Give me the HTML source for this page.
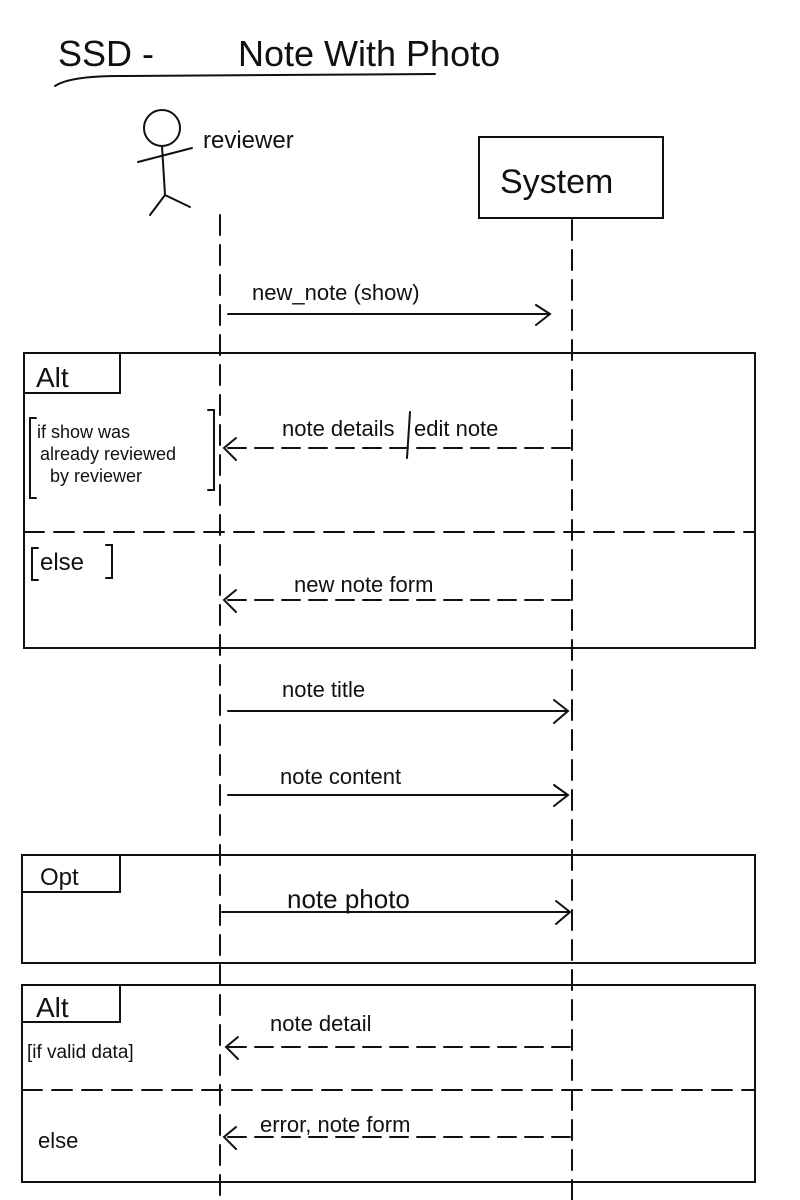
<!DOCTYPE html>
<html><head><meta charset="utf-8"><style>
html,body{margin:0;padding:0;background:#fff;width:800px;height:1200px;overflow:hidden}
svg text{font-family:"Liberation Sans",sans-serif;fill:#111}
</style></head><body>
<svg width="800" height="1200" viewBox="0 0 800 1200" xmlns="http://www.w3.org/2000/svg">
<g stroke="#111" stroke-width="2" fill="none" stroke-linecap="round">
<!-- title underline -->
<path d="M55 86 Q70 76 120 76 L435 74"/>
<!-- stick figure -->
<circle cx="162" cy="128" r="18"/>
<path d="M162 146 L165 195 M138 162 L192 148 M165 195 L150 215 M165 195 L190 207"/>
<!-- system box -->
<rect x="479" y="137" width="184" height="81"/>
<!-- lifelines -->
<path d="M220 215 V1200" stroke-dasharray="20 10"/>
<path d="M572 220 V1200" stroke-dasharray="20 10"/>
<!-- alt 1 -->
<rect x="24" y="353" width="731" height="295"/>
<path d="M24 393 H120 V353"/>
<path d="M24 532 H755" stroke-dasharray="20 10"/>
<path d="M36 418 H30 V498 H36 M208 410 H214 V490 H208"/>
<path d="M38 548 H32 V580 H38 M106 545 H112 V578 H106"/>
<!-- opt -->
<rect x="22" y="855" width="733" height="108"/>
<path d="M22 892 H120 V855"/>
<!-- alt 2 -->
<rect x="22" y="985" width="733" height="197"/>
<path d="M22 1022 H120 V985"/>
<path d="M22 1090 H755" stroke-dasharray="20 10"/>
<!-- arrows -->
<path d="M228 314 H550 M536 305 L550 314 L536 325"/>
<path d="M570 448 H224" stroke-dasharray="18 9"/><path d="M236 438 L224 448 L236 460"/>
<path d="M570 600 H224" stroke-dasharray="18 9"/><path d="M236 590 L224 600 L236 612"/>
<path d="M228 711 H568 M554 700 L568 711 L554 723"/>
<path d="M228 795 H568 M554 785 L568 795 L554 806"/>
<path d="M222 912 H570 M556 901 L570 912 L556 924"/>
<path d="M570 1047 H226" stroke-dasharray="18 9"/><path d="M238 1037 L226 1047 L238 1059"/>
<path d="M570 1137 H224" stroke-dasharray="18 9"/><path d="M236 1127 L224 1137 L236 1149"/>
<path d="M410 412 L407 458"/>
</g>
<text x="58" y="66" font-size="36">SSD -</text>
<text x="238" y="66" font-size="36">Note With Photo</text>
<text x="203" y="148" font-size="24">reviewer</text>
<text x="500" y="193" font-size="34">System</text>
<text x="252" y="300" font-size="22">new_note (show)</text>
<text x="36" y="387" font-size="28">Alt</text>
<text x="37" y="438" font-size="18">if show was</text>
<text x="40" y="460" font-size="18">already reviewed</text>
<text x="50" y="482" font-size="18">by reviewer</text>
<text x="282" y="436" font-size="22">note details</text>
<text x="414" y="436" font-size="22">edit note</text>
<text x="40" y="570" font-size="24">else</text>
<text x="294" y="592" font-size="22">new note form</text>
<text x="282" y="697" font-size="22">note title</text>
<text x="280" y="784" font-size="22">note content</text>
<text x="40" y="885" font-size="24">Opt</text>
<text x="287" y="908" font-size="26">note photo</text>
<text x="36" y="1017" font-size="28">Alt</text>
<text x="27" y="1058" font-size="19">[if valid data]</text>
<text x="270" y="1031" font-size="22">note detail</text>
<text x="38" y="1148" font-size="22">else</text>
<text x="260" y="1132" font-size="22">error, note form</text>
</svg>
</body></html>
